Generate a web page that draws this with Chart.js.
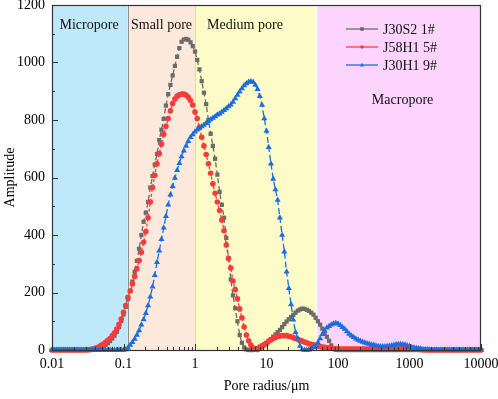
<!DOCTYPE html>
<html>
<head>
<meta charset="utf-8">
<title>Pore radius distribution</title>
<script src="https://cdn.jsdelivr.net/npm/chart.js@4.4.1/dist/chart.umd.min.js"></script>
<style>
  html, body { margin: 0; padding: 0; background: #fff; }
  #chart { display: block; }
</style>
</head>
<body>
<canvas id="chart" width="498" height="399"></canvas>
<script>
// NMR bins: 32 per decade from 0.01 um up to 10000 um (193 bins)
const binsPerDecade = 32;

const seriesNames = ["J30S2 1#", "J58H1 5#", "J30H1 9#"];

const ampJ30S2 = [
  0, 0, 0, 0, 0, 0, 0, 0, 0, 0, 0, 0, 0, 0, 0, 0,
  0, 0, 1, 2, 4, 6, 9, 13, 18, 24, 31, 40, 50, 63, 80, 101,
  124, 150, 177, 206, 238, 272, 310, 352, 400, 446, 478, 515, 565, 605, 645, 682,
  730, 766, 804, 850, 890, 922, 955, 988, 1020, 1050, 1072, 1080, 1082, 1079, 1070, 1057,
  1038, 1009, 976, 935, 895, 855, 800, 752, 710, 665, 610, 550, 505, 460, 390, 320,
  245, 190, 145, 100, 52, 25, 9, 2, 0, 0, 0, 3, 7, 12, 16, 20,
  24, 31, 38, 46, 54, 62, 70, 80, 90, 99, 107, 115, 122, 130, 137, 141,
  144, 143, 140, 136, 130, 123, 112, 100, 88, 74, 60, 46, 32, 16, 6, 1,
  0, 0, 0, 0, 0, 0, 0, 0, 0, 0, 0, 0, 0, 0, 0, 0,
  0, 0, 0, 0, 0, 0, 0, 0, 0, 0, 0, 0, 0, 0, 0, 0,
  0, 0, 0, 0, 0, 0, 0, 0, 0, 0, 0, 0, 0, 0, 0, 0,
  0, 0, 0, 0, 0, 0, 0, 0, 0, 0, 0, 0, 0, 0, 0, 0,
  0
];

const ampJ58H1 = [
  0, 0, 0, 0, 0, 0, 0, 0, 0, 0, 0, 0, 0, 0, 0, 0,
  1, 2, 3, 5, 8, 11, 16, 21, 27, 34, 40, 50, 60, 73, 89, 108,
  131, 155, 183, 205, 230, 256, 283, 311, 340, 375, 412, 460, 515, 565, 608, 648,
  683, 716, 750, 778, 805, 832, 857, 873, 883, 888, 890, 890, 887, 879, 868, 852,
  828, 805, 775, 740, 710, 680, 648, 615, 578, 545, 515, 485, 452, 415, 365, 318,
  285, 240, 210, 178, 143, 112, 80, 52, 32, 17, 8, 3, 2, 6, 12, 18,
  24, 31, 36, 40, 44, 47, 49, 50, 50, 50, 48, 46, 43, 40, 37, 34,
  31, 28, 25, 22, 20, 18, 15, 13, 12, 10, 9, 8, 7, 6, 5, 4,
  4, 3, 3, 3, 3, 3, 3, 3, 3, 3, 3, 3, 3, 3, 3, 4,
  4, 4, 5, 5, 6, 6, 7, 7, 8, 8, 9, 9, 9, 9, 9, 8,
  7, 6, 5, 4, 3, 2, 1, 1, 0, 0, 0, 0, 0, 0, 0, 0,
  0, 0, 0, 0, 0, 0, 0, 0, 0, 0, 0, 0, 0, 0, 0, 0,
  0
];

const ampJ30H1 = [
  0, 0, 0, 0, 0, 0, 0, 0, 0, 0, 0, 0, 0, 0, 0, 0,
  0, 0, 0, 0, 0, 0, 0, 0, 0, 0, 0, 0, 0, 0, 0, 0,
  0, 2, 8, 17, 27, 38, 52, 68, 88, 106, 128, 155, 185, 220, 260, 305,
  345, 385, 425, 465, 505, 540, 570, 598, 625, 650, 673, 693, 710, 726, 740, 750,
  759, 766, 772, 777, 783, 789, 796, 802, 807, 812, 818, 822, 828, 834, 840, 847,
  853, 863, 875, 887, 898, 910, 920, 927, 932, 934, 932, 922, 907, 883, 852, 805,
  762, 705, 648, 595, 558, 522, 460, 400, 342, 272, 215, 158, 105, 62, 40, 14,
  2, 0, 0, 1, 4, 9, 15, 26, 40, 55, 67, 77, 83, 88, 91, 93,
  91, 86, 79, 73, 64, 56, 50, 44, 39, 35, 31, 28, 25, 23, 21, 18,
  17, 15, 13, 12, 12, 12, 13, 14, 16, 17, 19, 20, 20, 19, 18, 16,
  13, 10, 8, 6, 5, 4, 3, 2, 2, 1, 0, 0, 0, 0, 0, 0,
  0, 0, 0, 0, 0, 0, 0, 0, 0, 0, 0, 0, 0, 0, 0, 0,
  0
];

const radius = ampJ30S2.map((_, i) => 0.01 * Math.pow(10, i / binsPerDecade));

// pore classes
const zoneNames = ["Micropore", "Small pore", "Medium pore", "Macropore"];
const zoneEdges = [0.01, 0.115, 1, 50, 10000];
const zoneColors = ["#bfe9fa", "#fde8dc", "#fdfcc8", "#fdd4fd"];
const yTicks = [0, 200, 400, 600, 800, 1000, 1200];

const colors = ["#6b6b6b", "#f93b3b", "#1a6ee0"];
const markers = ["rect", "circle", "triangle"];

const serif = "'Times New Roman', 'Liberation Serif', serif";
Chart.defaults.font.family = serif;
Chart.defaults.font.size = 14;
Chart.defaults.color = "#000";

const toPoints = (arr) => arr.map((v, i) => ({ x: radius[i], y: v }));

const zonesPlugin = {
  id: "zones",
  beforeDatasetsDraw(chart) {
    const { ctx, chartArea: a, scales: { x, y } } = chart;
    ctx.save();
    for (let k = 0; k < zoneNames.length; k++) {
      const x0 = x.getPixelForValue(zoneEdges[k]);
      const x1 = x.getPixelForValue(zoneEdges[k + 1]);
      ctx.fillStyle = zoneColors[k];
      ctx.fillRect(x0, a.top, x1 - x0, a.bottom - a.top);
    }
    // borders between classes
    const edgeStyle = [null, "#8f8f8f", "#dcda9c", "#ffffff"];
    for (let k = 1; k < 4; k++) {
      const px = Math.round(x.getPixelForValue(zoneEdges[k])) + 0.5;
      ctx.strokeStyle = edgeStyle[k];
      ctx.lineWidth = k === 3 ? 1.5 : 1;
      ctx.beginPath();
      ctx.moveTo(px, a.top);
      ctx.lineTo(px, a.bottom);
      ctx.stroke();
    }
    // class labels
    const labelAt = [[0.033, 1130], [0.34, 1130], [5, 1130], [800, 870]];
    ctx.fillStyle = "#111";
    ctx.font = "14px " + serif;
    ctx.textAlign = "center";
    ctx.textBaseline = "middle";
    zoneNames.forEach((name, k) => {
      ctx.fillText(name, x.getPixelForValue(labelAt[k][0]), y.getPixelForValue(labelAt[k][1]));
    });
    ctx.restore();
  }
};

function drawMarker(ctx, style, cx, cy, r) {
  ctx.beginPath();
  if (style === "rect") {
    ctx.rect(cx - r, cy - r, 2 * r, 2 * r);
  } else if (style === "circle") {
    ctx.arc(cx, cy, r, 0, Math.PI * 2);
  } else {
    ctx.moveTo(cx, cy - r * 1.2);
    ctx.lineTo(cx + r * 1.1, cy + r * 0.8);
    ctx.lineTo(cx - r * 1.1, cy + r * 0.8);
    ctx.closePath();
  }
  ctx.fill();
}

const framePlugin = {
  id: "frame",
  afterDatasetsDraw(chart) {
    const { ctx, chartArea: a, scales: { x, y } } = chart;
    ctx.save();
    ctx.strokeStyle = "#333";
    ctx.lineWidth = 1;
    ctx.beginPath();
    // inward ticks on the x axis
    for (let e = -2; e <= 4; e++) {
      for (let m = 1; m <= (e === 4 ? 1 : 9); m++) {
        const px = Math.round(x.getPixelForValue(m * Math.pow(10, e))) + 0.5;
        const len = m === 1 ? 6 : 3;
        ctx.moveTo(px, a.bottom);
        ctx.lineTo(px, a.bottom - len);
      }
    }
    // inward ticks on the y axis
    for (let v = 0; v <= 1200; v += 100) {
      const py = Math.round(y.getPixelForValue(v)) + 0.5;
      ctx.moveTo(a.left, py);
      ctx.lineTo(a.left + (v % 200 === 0 ? 6 : 3), py);
    }
    ctx.stroke();
    ctx.lineWidth = 1.2;
    ctx.strokeRect(a.left + 0.5, a.top + 0.5, a.right - a.left - 1, a.bottom - a.top);
    ctx.restore();
  },
  afterDraw(chart) {
    const ctx = chart.ctx;
    ctx.save();
    ctx.font = "14px " + serif;
    ctx.textAlign = "left";
    ctx.textBaseline = "middle";
    seriesNames.forEach((name, k) => {
      const yy = 29 + k * 18;
      ctx.strokeStyle = colors[k];
      ctx.fillStyle = colors[k];
      ctx.lineWidth = 1.3;
      ctx.beginPath();
      ctx.moveTo(346, yy);
      ctx.lineTo(378, yy);
      ctx.stroke();
      drawMarker(ctx, markers[k], 362, yy, 1.8);
      ctx.fillStyle = "#111";
      ctx.fillText(name, 383, yy + 1);
    });
    ctx.restore();
  }
};

const amps = [ampJ30S2, ampJ58H1, ampJ30H1];
const dashes = [[5, 3], [3, 2], [6, 3]];
const radii = [3, 2.8, 3.5];

new Chart(document.getElementById("chart"), {
  type: "line",
  data: {
    datasets: amps.map((arr, k) => ({
      label: seriesNames[k],
      data: toPoints(arr),
      borderColor: colors[k],
      backgroundColor: colors[k],
      borderWidth: 1.3,
      borderDash: dashes[k],
      pointStyle: markers[k],
      pointRadius: radii[k],
      pointBorderWidth: 0,
      tension: 0,
      clip: false,
      order: 3 - k
    }))
  },
  options: {
    responsive: false,
    animation: false,
    devicePixelRatio: 1,
    layout: { padding: { top: 5, right: 17, left: 0, bottom: 0 } },
    plugins: {
      legend: { display: false },
      tooltip: { enabled: false }
    },
    scales: {
      x: {
        type: "logarithmic",
        min: 0.01,
        max: 10000,
        grid: { display: false, drawTicks: false, tickLength: 0 },
        border: { display: false },
        afterFit: (s) => { s.height = 49; s.paddingLeft = 0; s.paddingRight = 0; },
        ticks: {
          autoSkip: false,
          maxRotation: 0,
          padding: 6,
          callback: (v) => {
            const e = Math.log10(v);
            const n = Math.round(e);
            if (Math.abs(e - n) > 1e-6) return "";
            return n < 0 ? Math.pow(10, n).toFixed(-n) : String(Math.pow(10, n));
          }
        },
        title: { display: true, text: "Pore radius/μm", padding: { top: 0, bottom: 4 } }
      },
      y: {
        min: 0,
        max: 1200,
        grid: { display: false, drawTicks: false, tickLength: 0 },
        border: { display: false },
        afterFit: (s) => { s.width = 52; s.paddingTop = 0; s.paddingBottom = 0; },
        afterBuildTicks: (s) => { s.ticks = yTicks.map((v) => ({ value: v })); },
        ticks: { padding: 7, callback: (v) => String(v) },
        title: { display: true, text: "Amplitude", padding: { top: 2, bottom: 0 } }
      }
    }
  },
  plugins: [zonesPlugin, framePlugin]
});
</script>
</body>
</html>
